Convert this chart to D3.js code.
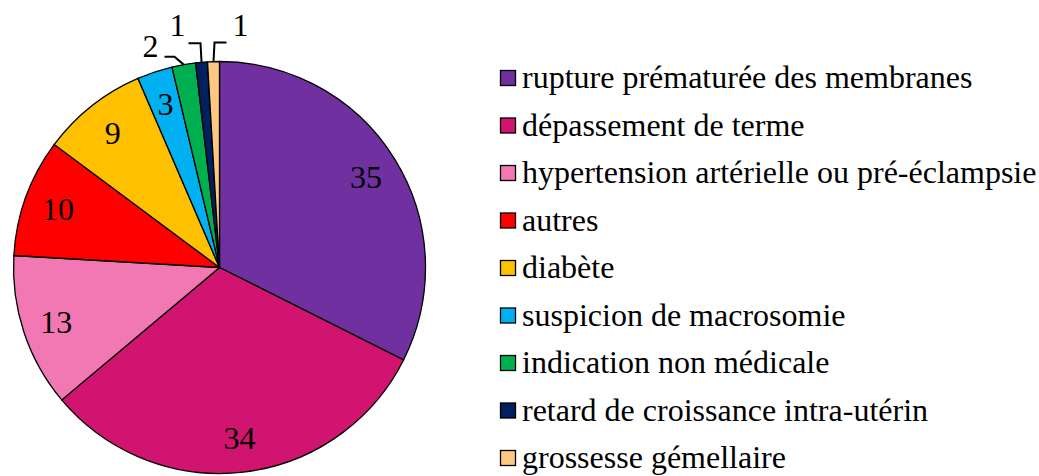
<!DOCTYPE html>
<html><head><meta charset="utf-8">
<script src="https://cdn.jsdelivr.net/npm/d3@7"></script>
<style>body{margin:0;background:#fff}svg{display:block}svg text{font-family:'Liberation Serif',serif !important}</style>
</head><body>
<svg id="c" width="1039" height="476"></svg>
<script>
const categories = ["rupture prématurée des membranes","dépassement de terme","hypertension artérielle ou pré-éclampsie","autres","diabète","suspicion de macrosomie","indication non médicale","retard de croissance intra-utérin","grossesse gémellaire"];
const values = [35,34,13,10,9,3,2,1,1];
const colors = ["#7030A0","#D01470","#F278B4","#FF0000","#FFC000","#00B0F0","#00B050","#002060","#FFC882"];

const svg = d3.select("#c");
const cx = 219.5, cy = 267.5, R = 206;
const FS = 32;
const FF = "'Liberation Serif', serif";
const pie = d3.pie().sort(null).value(d=>d)(values);
const arc = d3.arc().innerRadius(0).outerRadius(R);
const labArc = d3.arc().innerRadius(172).outerRadius(172);
const g = svg.append("g").attr("transform",`translate(${cx},${cy})`);
g.selectAll("path").data(pie).join("path")
 .attr("d",arc).attr("fill",(d,i)=>colors[i]).attr("stroke","#000").attr("stroke-width",1.3);

const inside = pie.filter(d=>d.value>=3);
g.selectAll("text.in").data(inside).join("text")
 .attr("x",d=>labArc.centroid(d)[0]).attr("y",d=>labArc.centroid(d)[1]+11)
 .attr("text-anchor","middle")
 .attr("font-family",FF).style("font-family",FF,"important").attr("font-size",FS).text(d=>d.value);

// outside labels with leader lines
const outs = pie.filter(d=>d.value<3);
const offs = [ {tx:-69,ty:-8,kx:-45,ky:-8,hx:-55}, {tx:-42,ty:-26,kx:-19,ky:-19,hx:-31}, {tx:21,ty:-26,kx:-5,ky:-19,hx:7} ];
outs.forEach((d,k)=>{
  const a = (d.startAngle+d.endAngle)/2;
  const ex = Math.sin(a)*R, ey = -Math.cos(a)*R;
  const o = offs[k];
  g.append("polyline").attr("points",`${ex},${ey} ${o.kx},${ey+o.ky} ${o.hx},${ey+o.ky}`)
   .attr("fill","none").attr("stroke","#000").attr("stroke-width",2);
  g.append("text").attr("x",o.tx).attr("y",ey+o.ty).attr("text-anchor","middle")
   .attr("font-family",FF).style("font-family",FF,"important").attr("font-size",FS).text(d.value);
});

const leg = svg.append("g");
const ly = d3.scalePoint().domain(categories).range([78,458]);
categories.forEach((c,i)=>{
  leg.append("rect").attr("x",500.5).attr("y",ly(c)-7.5).attr("width",15).attr("height",15)
   .attr("fill",colors[i]).attr("stroke","#000").attr("stroke-width",1.3);
  leg.append("text").attr("x",522).attr("y",ly(c)+10)
   .attr("font-family",FF).style("font-family",FF,"important").attr("font-size",FS).text(c);
});
</script>
</body></html>
